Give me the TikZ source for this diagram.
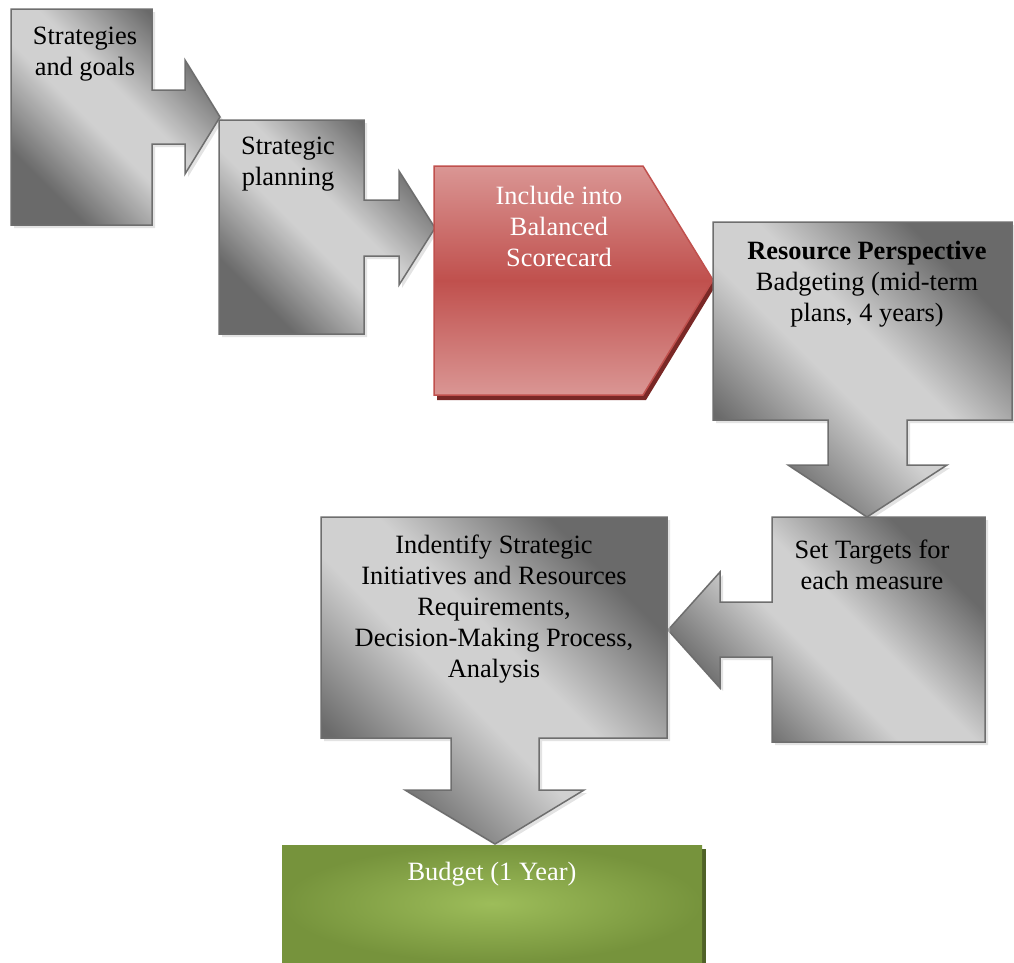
\documentclass[tikz,border=0pt]{standalone}
\usepackage{fontspec}
\setmainfont{Liberation Serif}
\usetikzlibrary{shadows}

\definecolor{boxdark}{HTML}{6A6A6A}
\definecolor{boxlight}{HTML}{D0D0D0}
\definecolor{boxline}{HTML}{6E6E6E}
\definecolor{redmid}{HTML}{C0504D}
\definecolor{redlight}{HTML}{DA9694}
\definecolor{redshadow}{HTML}{7A2826}
\definecolor{greenlight}{HTML}{9DBD5A}
\definecolor{greendark}{HTML}{76933C}
\definecolor{greenshadow}{HTML}{4F6228}

\pgfdeclareverticalshading{grayband}{100bp}{color(0bp)=(boxdark); color(27bp)=(boxdark); color(45bp)=(boxlight); color(55bp)=(boxlight); color(73bp)=(boxdark); color(100bp)=(boxdark)}

\begin{document}
\begin{tikzpicture}[x=1pt, y=-1pt,
	graybox/.style={draw=boxline, line width=1.5pt, shading=grayband, shading angle=-45, drop shadow={shadow xshift=3pt, shadow yshift=-3pt, fill=black!22}},
	redbox/.style={draw=redmid, line width=1.5pt, top color=redlight, bottom color=redlight, middle color=redmid, drop shadow={shadow xshift=3pt, shadow yshift=-5pt, fill=redshadow, opacity=1}},
	greenbox/.style={inner color=greenlight, outer color=greendark, drop shadow={shadow xshift=4pt, shadow yshift=-4pt, fill=greenshadow, opacity=1}},
	boxtext/.style={align=center, inner sep=0pt, font=\fontsize{26.4}{31}\selectfont},
	whitetext/.style={boxtext, text=white}]
	\useasboundingbox (0,0) rectangle (1014,962);

	% 図形を描画
	\path[graybox] (11,9) -- (152,9) -- (152,90) -- (185,90) -- (185,60) -- (220,117) -- (185,174) -- (185,144) -- (152,144) -- (152,225) -- (11,225) -- cycle;
	\path[graybox] (219,120) -- (364,120) -- (364,200) -- (399,200) -- (399,171) -- (435,228) -- (399,285) -- (399,256) -- (364,256) -- (364,334) -- (219,334) -- cycle;
	\path[redbox] (434,166) -- (643,166) -- (713,280) -- (643,395) -- (434,395) -- cycle;
	\path[graybox] (713,222) -- (1012,222) -- (1012,420) -- (907,420) -- (907,465) -- (947,465) -- (867,517) -- (788,465) -- (828,465) -- (828,420) -- (713,420) -- cycle;
	\path[graybox] (772,517) -- (985,517) -- (985,742) -- (772,742) -- (772,657) -- (720,657) -- (720,688) -- (668,630) -- (720,572) -- (720,602) -- (772,602) -- cycle;
	\path[graybox] (321,517) -- (667,517) -- (667,738) -- (539,738) -- (539,790) -- (584,790) -- (495,844) -- (405,790) -- (451,790) -- (451,738) -- (321,738) -- cycle;
	\path[greenbox] (282,845) rectangle (702,962);

	% テキストを追加
	\node[boxtext] (goals) at (85,54) {Strategies\\and goals};
	\node[boxtext] (planning) at (288,164) {Strategic\\planning};
	\node[whitetext] (scorecard) at (559,226) {Include into\\Balanced\\Scorecard};
	\node[boxtext] (resource) at (867,284) {\textbf{Resource Perspective}\\Badgeting (mid-term\\plans, 4 years)};
	\node[boxtext] (targets) at (872,565) {Set Targets for\\each measure};
	\node[boxtext] (initiatives) at (494,609) {Indentify Strategic\\Initiatives and Resources\\Requirements,\\Decision-Making Process,\\Analysis};
	\node[whitetext] (budget) at (492,874) {Budget (1 Year)};
\end{tikzpicture}
\end{document}
